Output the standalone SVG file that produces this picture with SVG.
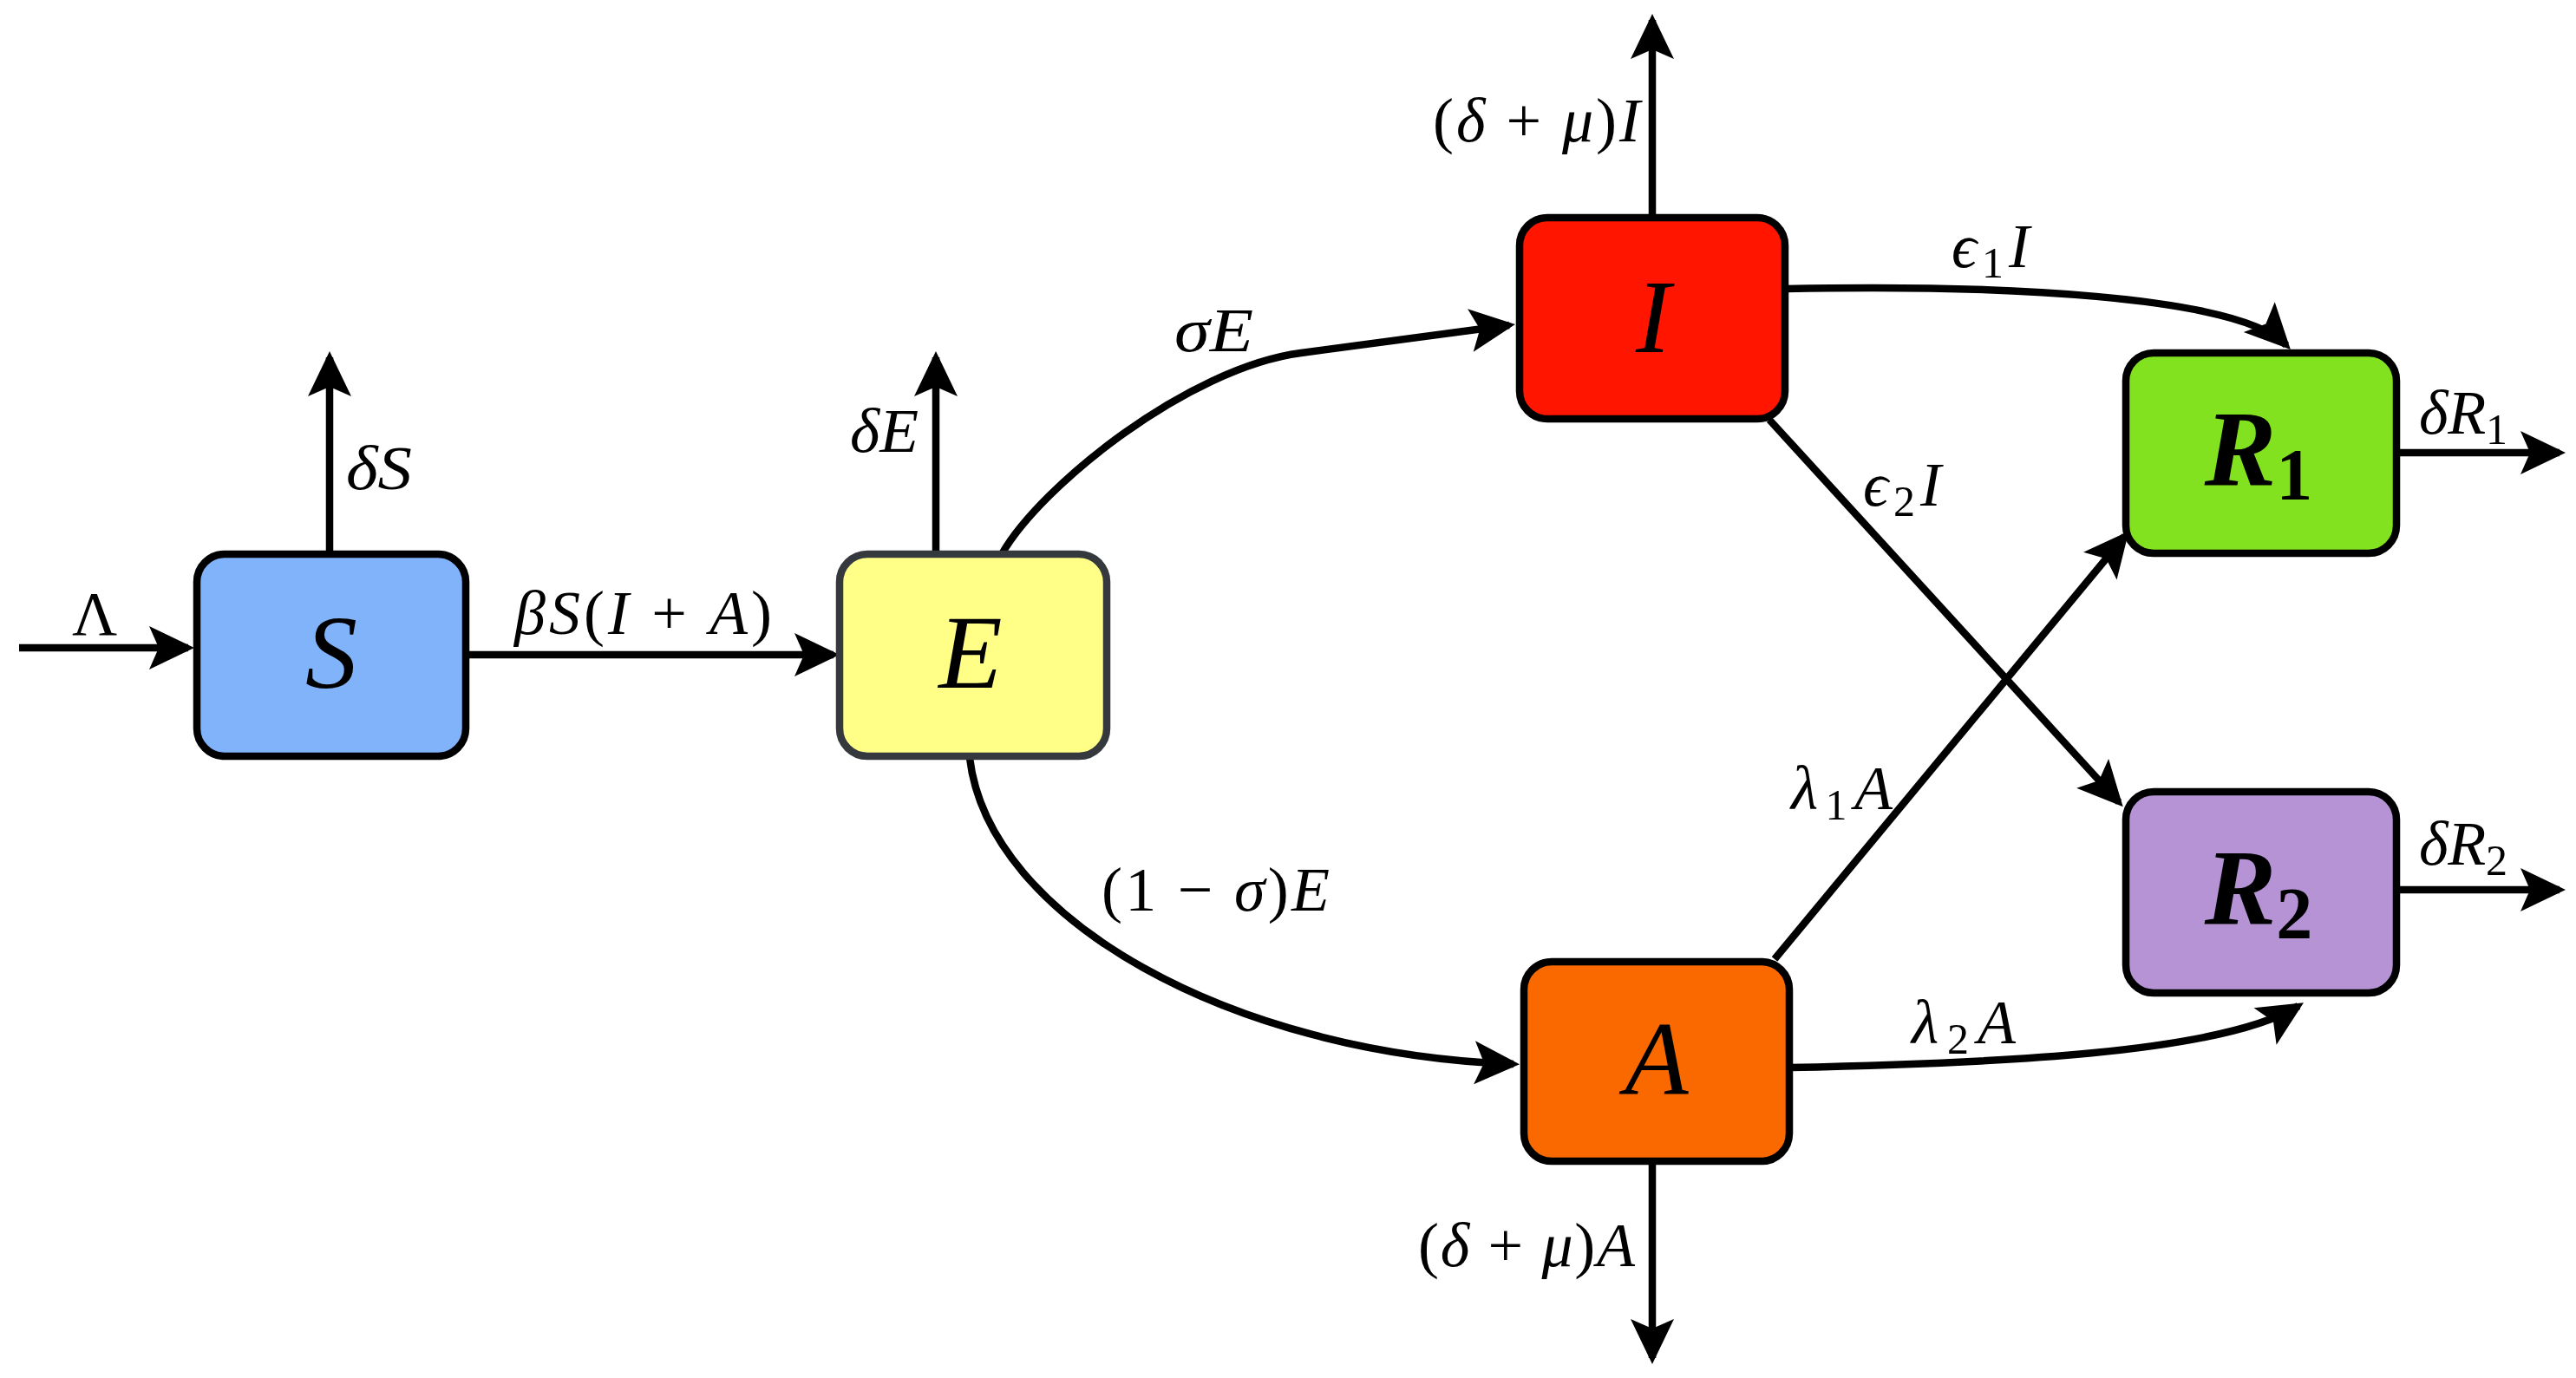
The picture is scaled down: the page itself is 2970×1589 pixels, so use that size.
<svg xmlns="http://www.w3.org/2000/svg" width="2970" height="1589" viewBox="0 0 2970 1589">
<style>
.box{stroke:#000;stroke-width:8.5}
.m{font-family:"Liberation Serif","DejaVu Serif",serif;font-style:italic;fill:#000}
.big{font-size:120px}
.bigb{font-size:124px;font-weight:bold}
.lab{font-size:72px}
.up{font-style:normal}
.sub{font-size:50px;font-style:normal}
.c{fill:none;stroke:#000;stroke-width:8.5}
</style>
<defs>
<marker id="ah" markerUnits="userSpaceOnUse" viewBox="-48 -27 56 54" markerWidth="56" markerHeight="54" refX="0" refY="0" orient="auto">
<path d="M7,0 L-45,-25 L-34,0 L-45,25 Z" fill="#000"/>
</marker>
</defs>
<rect width="2970" height="1589" fill="#fff"/>

<g id="connectors">
<path class="c" marker-end="url(#ah)" d="M22,747 L217,747"/>
<path class="c" marker-end="url(#ah)" d="M380,636 L380,412"/>
<path class="c" marker-end="url(#ah)" d="M537,755 L961,755"/>
<path class="c" marker-end="url(#ah)" d="M1079,636 L1079,412"/>
<path class="c" marker-end="url(#ah)" d="M1155,639 C1200,560 1370,424 1500,407 L1740,375"/>
<path class="c" marker-end="url(#ah)" d="M1118,874 C1140,1060 1420,1215 1745,1227"/>
<path class="c" marker-end="url(#ah)" d="M1905,251 L1905,23"/>
<path class="c" marker-end="url(#ah)" d="M1905,1339 L1905,1566"/>
<path class="c" marker-end="url(#ah)" d="M2059,333 C2300,328 2580,340 2636,398"/>
<path class="c" marker-end="url(#ah)" d="M2040,484 L2443,925"/>
<path class="c" marker-end="url(#ah)" d="M2046,1106 L2450,618"/>
<path class="c" marker-end="url(#ah)" d="M2063,1231 C2300,1226 2560,1215 2650,1160"/>
<path class="c" marker-end="url(#ah)" d="M2763,522 L2951,522"/>
<path class="c" marker-end="url(#ah)" d="M2763,1026 L2951,1026"/>
</g>

<g id="node-S">
<rect class="box" x="227" y="639" width="310" height="233" rx="32" fill="#80b3fa"/>
<text class="m big" x="382" y="793" text-anchor="middle">S</text>
</g>
<g id="node-E">
<rect class="box" x="968" y="639" width="308" height="233" rx="32" fill="#ffff88" style="stroke:#35383c"/>
<text class="m big" x="1119" y="793" text-anchor="middle">E</text>
</g>
<g id="node-I">
<rect class="box" x="1752" y="251" width="306" height="232" rx="32" fill="#ff1500"/>
<text class="m big" x="1906" y="406" text-anchor="middle">I</text>
</g>
<g id="node-A">
<rect class="box" x="1757" y="1109" width="306" height="230" rx="32" fill="#f96900"/>
<text class="m big" x="1910" y="1262" text-anchor="middle">A</text>
</g>
<g id="node-R1">
<rect class="box" x="2451" y="407" width="312" height="231" rx="32" fill="#83e21f"/>
<text class="m bigb" x="2604" y="560" text-anchor="middle">R<tspan class="sub" style="font-size:84px;font-weight:bold" dy="16">1</tspan></text>
</g>
<g id="node-R2">
<rect class="box" x="2451" y="913" width="312" height="232" rx="32" fill="#b593d4"/>
<text class="m bigb" x="2604" y="1066" text-anchor="middle">R<tspan class="sub" style="font-size:84px;font-weight:bold" dy="16">2</tspan></text>
</g>

<g id="labels">
<text class="m lab up" x="109" y="732" text-anchor="middle">Λ</text>
<text class="m lab" x="399" y="564" textLength="76" lengthAdjust="spacingAndGlyphs">δS</text>
<text class="m lab" x="593" y="731" textLength="297" lengthAdjust="spacing">βS<tspan class="up">(</tspan>I<tspan class="up"> + </tspan>A<tspan class="up">)</tspan></text>
<text class="m lab" x="980" y="521" textLength="79" lengthAdjust="spacingAndGlyphs">δE</text>
<text class="m lab" x="1354" y="405" textLength="91" lengthAdjust="spacingAndGlyphs">σE</text>
<text class="m lab" x="1652" y="163" textLength="239" lengthAdjust="spacing"><tspan class="up">(</tspan>δ<tspan class="up"> + </tspan>μ<tspan class="up">)</tspan>I</text>
<text class="m lab" x="2250" y="308" textLength="90" lengthAdjust="spacing">ϵ<tspan class="sub" dy="12">1</tspan><tspan dy="-12">I</tspan></text>
<text class="m lab" x="2148" y="583" textLength="90" lengthAdjust="spacing">ϵ<tspan class="sub" dy="12">2</tspan><tspan dy="-12">I</tspan></text>
<text class="m lab" x="2789" y="500" textLength="102" lengthAdjust="spacing">δR<tspan class="sub" dy="12">1</tspan></text>
<text class="m lab" x="2789" y="997" textLength="102" lengthAdjust="spacing">δR<tspan class="sub" dy="12">2</tspan></text>
<text class="m lab" x="2065" y="933" textLength="117" lengthAdjust="spacing">λ<tspan class="sub" dy="12">1</tspan><tspan dy="-12">A</tspan></text>
<text class="m lab" x="2204" y="1203" textLength="120" lengthAdjust="spacing">λ<tspan class="sub" dy="12">2</tspan><tspan dy="-12">A</tspan></text>
<text class="m lab" x="1270" y="1050" textLength="263" lengthAdjust="spacing"><tspan class="up">(1 − </tspan>σ<tspan class="up">)</tspan>E</text>
<text class="m lab" x="1635" y="1460" textLength="250" lengthAdjust="spacing"><tspan class="up">(</tspan>δ<tspan class="up"> + </tspan>μ<tspan class="up">)</tspan>A</text>
</g>
</svg>
